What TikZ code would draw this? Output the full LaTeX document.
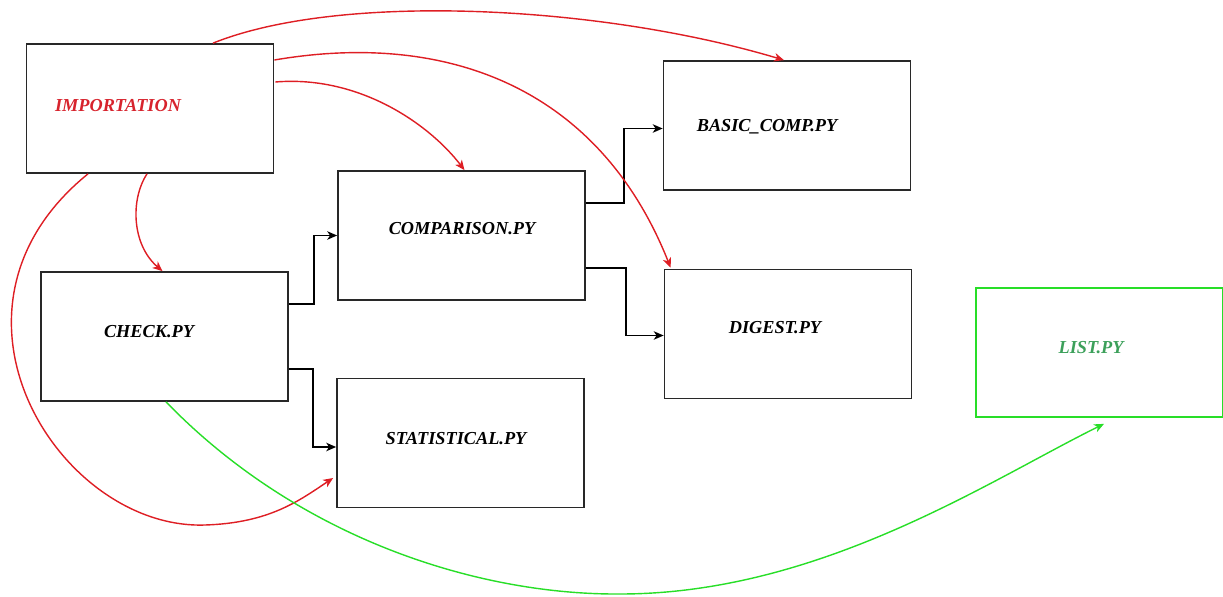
\documentclass[tikz,border=0pt]{standalone}
\usepackage{fontspec}
\setmainfont{Liberation Serif}
\usepackage{tikz}
\usetikzlibrary{calc, arrows.meta, positioning}
\definecolor{arrred}{RGB}{222,30,36}
\definecolor{lgreen}{RGB}{40,222,40}
\definecolor{txtred}{RGB}{215,35,45}
\definecolor{txtgreen}{RGB}{60,160,90}
\definecolor{boxgray}{RGB}{40,40,40}

\begin{document}
\begin{tikzpicture}[x=0.025cm, y=-0.025cm,
  box/.style={draw=boxgray, line width=1.2pt, minimum width=6.175cm, minimum height=3.225cm, inner sep=0pt},
  txt/.style={font=\fontsize{13}{15}\selectfont\bfseries\itshape, inner sep=0pt},
  arr/.style={-{Stealth[length=7pt, width=6pt, inset=2pt]}, line width=1pt, black},
  rarr/.style={-{Stealth[length=7pt, width=6pt, inset=2pt]}, line width=1pt, arrred},
  garr/.style={-{Stealth[length=7pt, width=6pt, inset=2pt]}, line width=1pt, lgreen}]
  \useasboundingbox (0,0) rectangle (1223,597);

  % boxes
  \node[box] (imp) at (150,108.5) {};
  \node[box] (basic) at (787,125.5) {};
  \node[box] (comp) at (461.5,235.5) {};
  \node[box] (check) at (164.5,336.5) {};
  \node[box] (digest) at (788,334) {};
  \node[box] (stat) at (460.5,443) {};
  \node[box, draw=lgreen] (list) at (1099.5,352.5) {};

  % texts
  \node[txt, txtred] (imptxt) at (118,106) {IMPORTATION};
  \node[txt] (basictxt) at (767,127) {BASIC\_COMP.PY};
  \node[txt] (comptxt) at (462,229) {COMPARISON.PY};
  \node[txt] (checktxt) at (149,332) {CHECK.PY};
  \node[txt] (digesttxt) at (775,328) {DIGEST.PY};
  \node[txt] (stattxt) at (456,439) {STATISTICAL.PY};
  \node[txt, txtgreen] (listtxt) at (1091,348) {LIST.PY};

  % black links
  \draw[arr] ($(check.east)+(0,-32.5)$) -- ++(25,0) |- (comp.west);
  \draw[arr] ($(check.east)+(0,32.5)$) -- ++(24,0) |- ($(stat.west)+(0,4)$);
  \draw[arr] ($(comp.east)+(0,-32.5)$) -- ++(38,0) |- ($(basic.west)+(0,3)$);
  \draw[arr] ($(comp.east)+(0,32.5)$) -- ++(40,0) |- ($(digest.west)+(0,1.5)$);

  % red links
  \draw[rarr] ($(imp.north)+(63,0)$) .. controls (340,-8) and (600,5) .. ($(basic.north)+(-3,0)$);
  \draw[rarr] ($(imp.east)+(0,-48.5)$) .. controls (450,30) and (600,90) .. ($(digest.north west)+(7,-1)$);
  \draw[rarr] ($(imp.east)+(1,-26.5)$) .. controls (360,75) and (430,125) .. ($(comp.north)+(3,0)$);
  \draw[rarr] ($(imp.south)+(-3,0)$) .. controls (130,200) and (132,245) .. ($(check.north)+(-2,0)$);
  \draw[rarr] ($(imp.south)+(-62,0)$) .. controls (-80,310) and (60,530) .. (205,525)
    .. controls (270,523) and (300,500) .. ($(stat.west)+(-3,35)$);

  % green link
  \draw[garr] ($(check.south)+(1.5,0)$) .. controls (300,540) and (480,595) .. (620,594)
    .. controls (820,594) and (990,480) .. ($(list.south)+(4.5,6)$);
\end{tikzpicture}
\end{document}
